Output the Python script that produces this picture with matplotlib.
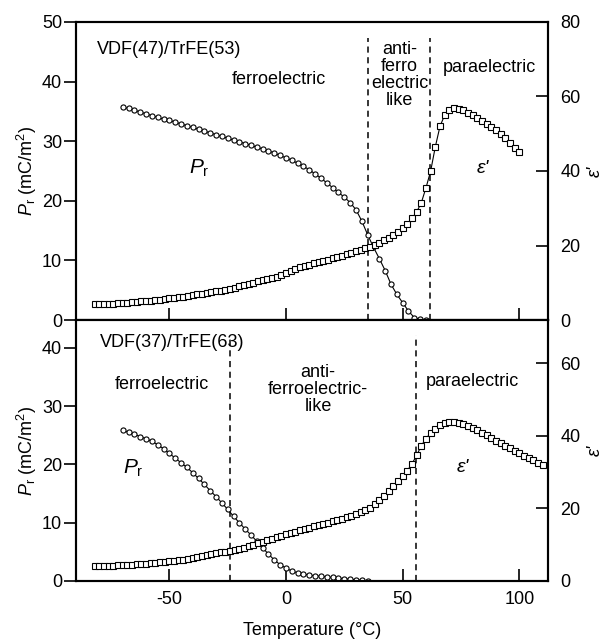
import matplotlib
matplotlib.use("Agg")
import matplotlib.pyplot as plt

plt.rcParams['font.family'] = ['Liberation Sans', 'DejaVu Sans']
plt.rcParams['mathtext.fontset'] = 'custom'
plt.rcParams['mathtext.rm'] = 'Liberation Sans'
plt.rcParams['mathtext.it'] = 'Liberation Sans:italic'
plt.rcParams['axes.unicode_minus'] = False

# --- VDF(47)/TrFE(53) ---
t_pr_a = [-70, -67.5, -65, -62.5, -60, -57.5, -55, -52.5, -50, -47.5, -45, -42.5, -40, -37.5,
          -35, -32.5, -30, -27.5, -25, -22.5, -20, -17.5, -15, -12.5, -10, -7.5, -5, -2.5,
          0, 2.5, 5, 7.5, 10, 12.5, 15, 17.5, 20, 22.5, 25, 27.5, 30, 32.5, 35, 37.5,
          40, 42.5, 45, 47.5, 50, 52.5, 55, 57.5, 60]
pr_a = [35.7, 35.5, 35.2, 34.9, 34.6, 34.3, 34.0, 33.7, 33.5, 33.2, 32.9, 32.6, 32.3, 32.0,
        31.7, 31.4, 31.1, 30.8, 30.5, 30.2, 29.9, 29.6, 29.3, 29.0, 28.7, 28.4, 28.0, 27.6,
        27.2, 26.8, 26.3, 25.8, 25.2, 24.5, 23.8, 23.0, 22.2, 21.4, 20.6, 19.7, 18.5, 16.6,
        14.3, 12.2, 10.3, 8.3, 6.0, 4.3, 2.9, 1.5, 0.4, 0.1, 0.05]

t_eps_a = [-82, -80, -78, -76, -74, -72, -70, -68, -66, -64, -62, -60, -58, -56, -54, -52,
           -50, -48, -46, -44, -42, -40, -38, -36, -34, -32, -30, -28, -26, -24, -22, -20,
           -18, -16, -14, -12, -10, -8, -6, -4, -2, 0, 2, 4, 6, 8, 10, 12, 14, 16, 18, 20,
           22, 24, 26, 28, 30, 32, 34, 36, 38, 40, 42, 44, 46, 48, 50, 52, 54, 56, 58, 60,
           62, 64, 66, 68, 70, 72, 74, 76, 78, 80, 82, 84, 86, 88, 90, 92, 94, 96, 98, 100]
eps_a = [4.2, 4.2, 4.3, 4.3, 4.4, 4.5, 4.6, 4.7, 4.8, 4.9, 5.0, 5.1, 5.2, 5.4, 5.5, 5.6,
         5.8, 5.9, 6.1, 6.3, 6.5, 6.7, 6.9, 7.1, 7.3, 7.5, 7.7, 7.9, 8.1, 8.4, 8.7, 9.0,
         9.3, 9.7, 10.0, 10.4, 10.7, 11.0, 11.3, 11.6, 12.0, 12.6, 13.2, 13.7, 14.1, 14.5,
         14.9, 15.2, 15.5, 15.8, 16.2, 16.6, 17.0, 17.3, 17.7, 18.0, 18.4, 18.8, 19.2, 19.7,
         20.2, 20.8, 21.4, 22.1, 22.8, 23.7, 24.7, 25.8, 27.3, 29.0, 31.5, 35.5, 40.0, 46.5,
         52.0, 55.0, 56.4, 56.8, 56.7, 56.3, 55.7, 55.0, 54.3, 53.5, 52.7, 51.8, 50.9, 49.9,
         48.8, 47.6, 46.3, 45.0]

# --- VDF(37)/TrFE(63) ---
t_pr_b = [-70, -67.5, -65, -62.5, -60, -57.5, -55, -52.5, -50, -47.5, -45, -42.5, -40, -37.5,
          -35, -32.5, -30, -27.5, -25, -22.5, -20, -17.5, -15, -12.5, -10, -7.5, -5, -2.5,
          0, 2.5, 5, 7.5, 10, 12.5, 15, 17.5, 20, 22.5, 25, 27.5, 30, 32.5, 35]
pr_b = [25.9, 25.5, 25.2, 24.8, 24.4, 24.0, 23.4, 22.7, 21.9, 21.1, 20.3, 19.5, 18.6, 17.6,
        16.6, 15.5, 14.5, 13.4, 12.3, 11.1, 10.0, 8.9, 7.9, 6.8, 5.7, 4.6, 3.6, 2.8,
        2.2, 1.7, 1.4, 1.2, 1.0, 0.9, 0.8, 0.7, 0.6, 0.5, 0.4, 0.3, 0.2, 0.1, 0.05]

t_eps_b = [-82, -80, -78, -76, -74, -72, -70, -68, -66, -64, -62, -60, -58, -56, -54, -52,
           -50, -48, -46, -44, -42, -40, -38, -36, -34, -32, -30, -28, -26, -24, -22, -20,
           -18, -16, -14, -12, -10, -8, -6, -4, -2, 0, 2, 4, 6, 8, 10, 12, 14, 16, 18, 20,
           22, 24, 26, 28, 30, 32, 34, 36, 38, 40, 42, 44, 46, 48, 50, 52, 54, 56, 58, 60,
           62, 64, 66, 68, 70, 72, 74, 76, 78, 80, 82, 84, 86, 88, 90, 92, 94, 96, 98, 100,
           102, 104, 106, 108, 110]
eps_b = [4.0, 4.0, 4.1, 4.1, 4.2, 4.3, 4.3, 4.4, 4.5, 4.6, 4.7, 4.8, 4.9, 5.0, 5.1, 5.2,
         5.4, 5.5, 5.7, 5.9, 6.1, 6.3, 6.6, 6.8, 7.1, 7.4, 7.6, 7.9, 8.1, 8.3, 8.6, 8.9,
         9.2, 9.6, 10.0, 10.4, 10.8, 11.2, 11.7, 12.1, 12.5, 12.9, 13.2, 13.6, 14.0, 14.4,
         14.7, 15.1, 15.4, 15.8, 16.1, 16.5, 16.8, 17.2, 17.5, 17.9, 18.4, 18.9, 19.5, 20.2,
         21.2, 22.3, 23.5, 24.8, 26.1, 27.5, 28.9, 30.4, 32.3, 34.6, 37.3, 39.2, 40.8, 42.0,
         42.9, 43.5, 43.8, 43.8, 43.6, 43.3, 42.8, 42.2, 41.6, 40.9, 40.2, 39.5, 38.7, 38.0,
         37.3, 36.6, 35.9, 35.2, 34.5, 33.8, 33.2, 32.6, 32.0]

FS = 13
XLIM = (-90, 112.3)


def estilo(ax, ax2):
    for a in (ax, ax2):
        for s in a.spines.values():
            s.set_linewidth(1.5)
    ax.set_xlim(*XLIM)
    ax.set_xticks([-50, 0, 50, 100])
    ax.tick_params(axis='x', direction='in', length=9, width=1.2, labelsize=FS, pad=7)
    ax.tick_params(axis='y', direction='out', length=9, width=1.2, labelsize=FS, pad=1)
    ax2.tick_params(axis='y', direction='in', length=9, width=1.2, labelsize=FS, pad=9)


def curvas(ax, ax2, tp, pr, te, eps):
    ax.plot(tp, pr, '-', color='black', lw=0.8, marker='o', ms=3.7,
            mfc='white', mec='black', mew=0.8, zorder=3)
    ax2.plot(te, eps, '-', color='black', lw=0.8, marker='s', ms=3.8,
             mfc='white', mec='black', mew=0.8, zorder=3)


fig = plt.figure(figsize=(6.10, 6.39), dpi=100)

# painel superior
ax1 = fig.add_axes([0.1246, 0.4992, 0.7738, 0.4664])
ax1r = ax1.twinx()
curvas(ax1, ax1r, t_pr_a, pr_a, t_eps_a, eps_a)
ax1.set_ylim(0, 50)
ax1.set_yticks([0, 10, 20, 30, 40, 50])
ax1r.set_ylim(0, 80)
ax1r.set_yticks([0, 20, 40, 60, 80])
estilo(ax1, ax1r)
ax1.tick_params(axis='x', labelbottom=False)
ax1.vlines([35.1, 61.7], 0, 47.3, colors='black', linestyles=(0, (4, 3)), lw=1.1)
ax1.text(-81, 45.3, 'VDF(47)/TrFE(53)', fontsize=FS, ha='left', va='center')
ax1.text(-3, 40.3, 'ferroelectric', fontsize=FS, ha='center', va='center')
ax1.text(48.6, 41.1, 'anti-\nferro\nelectric\nlike', fontsize=FS, ha='center',
         va='center', linespacing=1.0)
ax1.text(87, 42.4, 'paraelectric', fontsize=FS, ha='center', va='center')
ax1.text(-37, 25.5, r'$P_\mathrm{r}$', fontsize=FS + 2, ha='center', va='center')
ax1.text(84.4, 25.5, "ε'", fontsize=FS + 1, style='italic', ha='center', va='center')
ax1.set_ylabel(r'$P_\mathrm{r}$ (mC/m$^2$)', fontsize=FS, labelpad=2)
ax1r.set_ylabel("ε'", fontsize=FS, style='italic', labelpad=4)

# painel inferior
ax2 = fig.add_axes([0.1246, 0.0908, 0.7738, 0.4084])
ax2r = ax2.twinx()
curvas(ax2, ax2r, t_pr_b, pr_b, t_eps_b, eps_b)
ax2.set_ylim(0, 44.8)
ax2.set_yticks([0, 10, 20, 30, 40])
ax2r.set_ylim(0, 71.9)
ax2r.set_yticks([0, 20, 40, 60])
estilo(ax2, ax2r)
ax2.vlines([-24, 55.7], 0, 42.3, colors='black', linestyles=(0, (4, 3)), lw=1.1)
ax2.text(-79.7, 40.9, 'VDF(37)/TrFE(63)', fontsize=FS, ha='left', va='center')
ax2.text(-53.1, 33.7, 'ferroelectric', fontsize=FS, ha='center', va='center')
ax2.text(13.7, 32.8, 'anti-\nferroelectric-\nlike', fontsize=FS, ha='center',
         va='center', linespacing=1.0)
ax2.text(79.7, 34.2, 'paraelectric', fontsize=FS, ha='center', va='center')
ax2.text(-65.5, 19.4, r'$P_\mathrm{r}$', fontsize=FS + 2, ha='center', va='center')
ax2.text(75.8, 19.4, "ε'", fontsize=FS + 1, style='italic', ha='center', va='center')
ax2.set_ylabel(r'$P_\mathrm{r}$ (mC/m$^2$)', fontsize=FS, labelpad=2)
ax2r.set_ylabel("ε'", fontsize=FS, style='italic', labelpad=4)
ax2.set_xlabel('Temperature (°C)', fontsize=FS, labelpad=10)

fig.savefig('out.png', dpi=100)
